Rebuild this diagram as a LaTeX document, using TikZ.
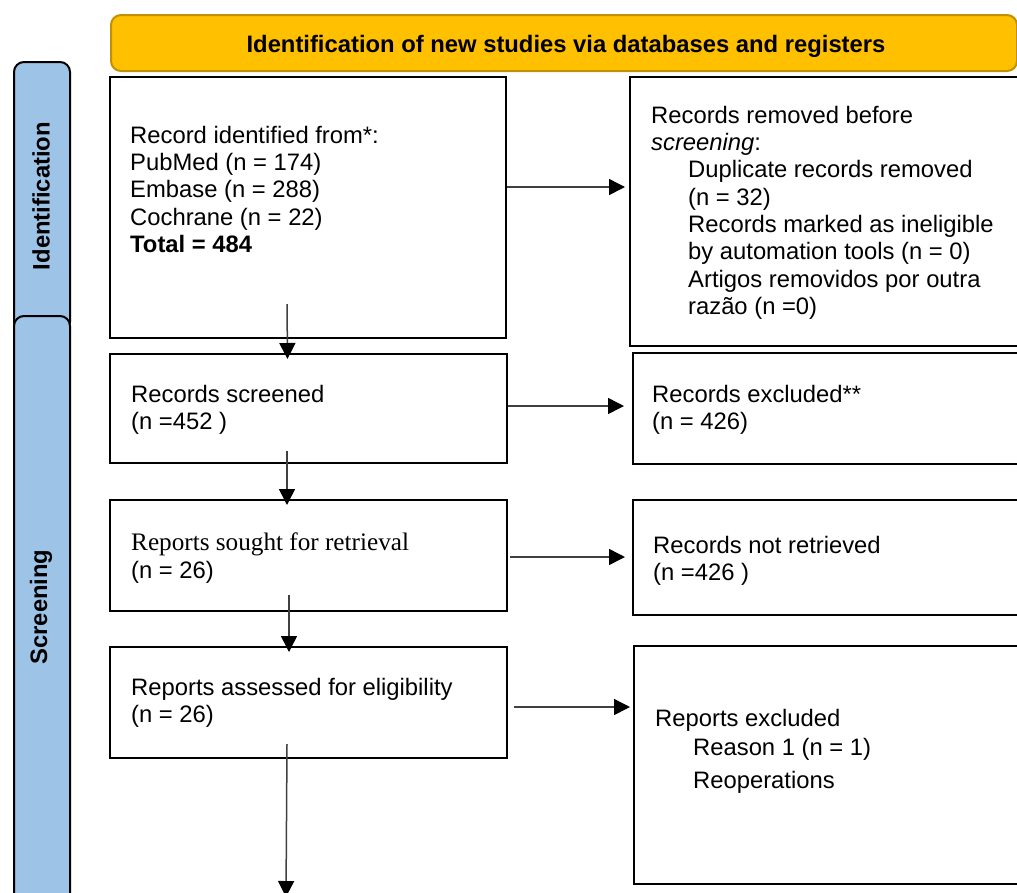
\documentclass[tikz,border=0pt]{standalone}
\usepackage{fontspec}
\setmainfont{Liberation Sans}
\newfontfamily\seriffam{Liberation Serif}
\usetikzlibrary{arrows.meta}
\definecolor{hdrfill}{HTML}{FFC000}
\definecolor{hdrline}{HTML}{BF9000}
\definecolor{barfill}{HTML}{9DC3E6}
\definecolor{arrline}{HTML}{404040}
\begin{document}
\begin{tikzpicture}[x=1pt,y=-1pt,
  box/.style={draw=black, line width=2pt, fill=white, rectangle, anchor=north west, inner sep=0pt},
  hdr/.style={draw=hdrline, line width=2pt, fill=hdrfill, rounded corners=10pt, anchor=north west, inner sep=0pt},
  bar/.style={draw=black, line width=2pt, fill=barfill, rounded corners=10pt, anchor=north west, inner sep=0pt},
  txt/.style={anchor=north west, inner sep=0pt, align=left, font=\fontsize{23.8pt}{27.3pt}\selectfont},
  lbl/.style={inner sep=0pt, font=\fontsize{23.8pt}{27pt}\selectfont\bfseries},
  arr/.style={draw=arrline, line width=1.5pt, -{Triangle[length=16pt,width=16pt,color=black]}}
]
\useasboundingbox (0,0) rectangle (1017,892);
\clip (0,0) rectangle (1017,892);

% header and side bars
\node[hdr, minimum width=906pt, minimum height=56pt] (hdr) at (110,14) {};
\node[lbl, anchor=base] (hdrt) at (566,52) {Identification of new studies via databases and registers};
\node[bar, minimum width=56pt, minimum height=270pt] (idbar) at (13,61) {};
\node[bar, minimum width=56pt, minimum height=600pt] (scbar) at (13,315) {};
\node[lbl, rotate=90] (idlbl) at (41,196) {Identification};
\node[lbl, rotate=90] (sclbl) at (41,607) {Screening};

% left boxes
\node[box, minimum width=396pt, minimum height=261pt] (b1) at (109,76) {};
\node[box, minimum width=397pt, minimum height=109pt] (b2) at (109,353) {};
\node[box, minimum width=397pt, minimum height=111pt] (b3) at (109,499) {};
\node[box, minimum width=397pt, minimum height=111pt] (b4) at (109,646) {};

% right boxes
\node[box, minimum width=401pt, minimum height=269pt] (r1) at (629,76) {};
\node[box, minimum width=398pt, minimum height=111pt] (r2) at (632,352) {};
\node[box, minimum width=398pt, minimum height=115pt] (r3) at (632,499) {};
\node[box, minimum width=397pt, minimum height=238pt] (r4) at (633,645) {};

% texts
\node[txt] (t1) at (130,123.9) {\strut Record identified from*:\\PubMed (n = 174)\\Embase (n = 288)\\Cochrane (n = 22)\\\textbf{Total = 484}};
\node[txt] (tr1) at (651,103.9) {\strut Records removed before\\\textit{screening}:\\
  \hspace*{37pt}Duplicate records removed\\\hspace*{37pt}(n = 32)\\
  \hspace*{37pt}Records marked as ineligible\\\hspace*{37pt}by automation tools (n = 0)\\
  \hspace*{37pt}Artigos removidos por outra\\\hspace*{37pt}razão (n =0)};
\node[txt] (t2) at (131,382.9) {\strut Records screened\\(n =452 )};
\node[txt] (tr2) at (652,382.9) {\strut Records excluded**\\(n = 426)};
\node[txt] (t3) at (131,530.9) {\strut{\seriffam\fontsize{25.2pt}{27.3pt}\selectfont Reports sought for retrieval}\\[0.7pt](n = 26)};
\node[txt] (tr3) at (653,533.9) {\strut Records not retrieved\\(n =426 )};
\node[txt] (t4) at (131,675.9) {\strut Reports assessed for eligibility\\(n = 26)};
\node[txt] (tr4) at (655,706.9) {\strut Reports excluded\\[1.7pt]\hspace*{38pt}Reason 1 (n = 1)\\[5.5pt]\hspace*{38pt}Reoperations};

% vertical arrows
\draw[arr] ([xshift=-21pt,yshift=35pt]b1.south) -- ([xshift=-21pt,yshift=-6pt]b2.north);
\draw[arr] ([xshift=-21.5pt,yshift=13pt]b2.south) -- ([xshift=-21.5pt,yshift=-6pt]b3.north);
\draw[arr] ([xshift=-19.5pt,yshift=17pt]b3.south) -- ([xshift=-19.5pt,yshift=-6pt]b4.north);
\coordinate (end4) at (286,897);
\draw[arr] ([xshift=-21.5pt,yshift=15pt]b4.south) -- (end4);

% horizontal arrows
\coordinate (h1) at ([yshift=20.5pt]b1.east);
\draw[arr, shorten >=4pt] (h1) -- (h1 -| r1.west);
\coordinate (h2) at ([yshift=2.5pt]b2.east);
\draw[arr, shorten >=8pt] (h2) -- (h2 -| r2.west);
\coordinate (h3) at ([xshift=2pt,yshift=-1.5pt]b3.east);
\draw[arr, shorten >=7pt] (h3) -- (h3 -| r3.west);
\coordinate (h4) at ([xshift=6pt,yshift=-4.5pt]b4.east);
\draw[arr, shorten >=3pt] (h4) -- (h4 -| r4.west);
\end{tikzpicture}
\end{document}
